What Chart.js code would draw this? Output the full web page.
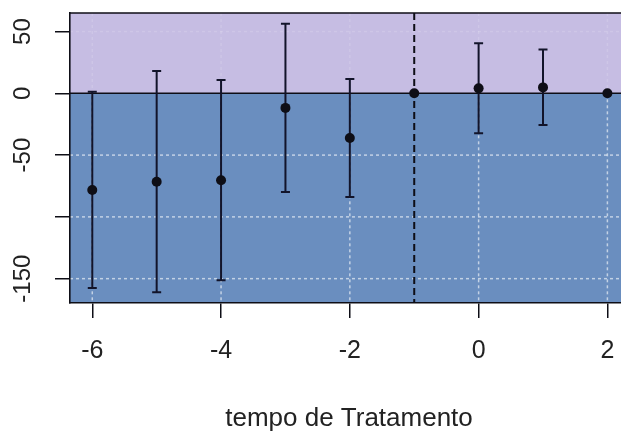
<!DOCTYPE html>
<html>
<head>
<meta charset="utf-8">
<script src="https://cdn.jsdelivr.net/npm/chart.js@4/dist/chart.umd.min.js"></script>
<style>
  html, body { margin: 0; padding: 0; background: #ffffff; overflow: hidden; }
  #wrap { width: 640px; height: 431px; }
</style>
</head>
<body>
<div id="wrap"><canvas id="c" width="640" height="431"></canvas></div>
<script>
// Event-study estimates by period relative to treatment
const periods   = [-6, -5, -4, -3, -2, -1, 0, 1, 2];
const estimates = [-78.2, -71.5, -70.3, -11.8, -36.1, 0, 4.0, 4.8, 0];
const ciLower   = [-157.6, -160.9, -151.3, -79.8, -83.9, null, -32.4, -25.7, null];
const ciUpper   = [1.3, 18.1, 10.8, 56.2, 11.6, null, 40.5, 35.4, null];

// Axis ticks and labels
const xTicks  = [-6, -4, -2, 0, 2];
const yTicks  = [50, 0, -50, -100, -150];
const yLabels = ['50', '0', '-50', '', '-150'];
const xTitle  = 'tempo de Tratamento';
const treatPeriod = -1;

const FONT = "'Liberation Sans', Arial, sans-serif";
const INK = '#0e0e16';

const panelPlugin = {
  id: 'panel',
  beforeDraw(chart) {
    const { ctx, chartArea: a, scales: { x, y } } = chart;
    const y0 = y.getPixelForValue(0);
    ctx.save();
    // shaded halves above / below zero
    ctx.fillStyle = '#c6bde3';
    ctx.fillRect(a.left, a.top, a.right - a.left, y0 - a.top);
    ctx.fillStyle = '#6a8ebf';
    ctx.fillRect(a.left, y0, a.right - a.left, a.bottom - y0);
    // dotted grid
    ctx.lineWidth = 1.5;
    ctx.setLineDash([3, 3]);
    xTicks.forEach(v => {
      const px = x.getPixelForValue(v);
      ctx.strokeStyle = 'rgba(255,255,255,0.14)';
      ctx.beginPath(); ctx.moveTo(px, a.top); ctx.lineTo(px, y0); ctx.stroke();
      ctx.strokeStyle = 'rgba(255,255,255,0.6)';
      ctx.beginPath(); ctx.moveTo(px, y0); ctx.lineTo(px, a.bottom); ctx.stroke();
    });
    yTicks.forEach(v => {
      if (v === 0) return;
      const py = y.getPixelForValue(v);
      ctx.strokeStyle = v > 0 ? 'rgba(255,255,255,0.14)' : 'rgba(255,255,255,0.6)';
      ctx.beginPath(); ctx.moveTo(a.left, py); ctx.lineTo(a.right, py); ctx.stroke();
    });
    ctx.restore();
  },
  beforeDatasetsDraw(chart) {
    const { ctx, chartArea: a, scales: { x, y } } = chart;
    const y0 = y.getPixelForValue(0);
    ctx.save();
    ctx.strokeStyle = INK;
    // zero reference line
    ctx.lineWidth = 1.6;
    ctx.beginPath(); ctx.moveTo(a.left, y0); ctx.lineTo(a.right, y0); ctx.stroke();
    // top frame
    ctx.beginPath(); ctx.moveTo(a.left, a.top); ctx.lineTo(a.right, a.top); ctx.stroke();
    // treatment period marker
    const xv = x.getPixelForValue(treatPeriod);
    ctx.lineWidth = 2;
    ctx.setLineDash([7, 4]);
    ctx.beginPath(); ctx.moveTo(xv, a.top); ctx.lineTo(xv, a.bottom); ctx.stroke();
    ctx.setLineDash([]);
    // confidence intervals
    ctx.strokeStyle = '#12142a';
    ctx.lineWidth = 2;
    periods.forEach((p, i) => {
      if (ciLower[i] === null || ciUpper[i] === null) return;
      const px = x.getPixelForValue(p);
      const lo = y.getPixelForValue(ciLower[i]);
      const hi = y.getPixelForValue(ciUpper[i]);
      ctx.beginPath();
      ctx.moveTo(px, lo); ctx.lineTo(px, hi);
      ctx.moveTo(px - 4.5, lo); ctx.lineTo(px + 4.5, lo);
      ctx.moveTo(px - 4.5, hi); ctx.lineTo(px + 4.5, hi);
      ctx.stroke();
    });
    ctx.restore();
  },
  afterDraw(chart) {
    const { ctx, scales: { y } } = chart;
    ctx.save();
    ctx.fillStyle = '#222222';
    ctx.font = '24px ' + FONT;
    ctx.textAlign = 'center';
    ctx.textBaseline = 'middle';
    yTicks.forEach((v, i) => {
      if (!yLabels[i]) return;
      const py = y.getPixelForValue(v);
      ctx.save();
      ctx.translate(23, py);
      ctx.rotate(-Math.PI / 2);
      ctx.fillText(yLabels[i], 0, 0);
      ctx.restore();
    });
    ctx.restore();
  }
};

new Chart(document.getElementById('c'), {
  type: 'scatter',
  data: {
    datasets: [{
      data: periods.map((p, i) => ({ x: p, y: estimates[i] })),
      pointRadius: 5,
      pointHoverRadius: 5,
      backgroundColor: INK,
      borderWidth: 0
    }]
  },
  options: {
    responsive: false,
    animation: false,
    events: [],
    layout: { padding: { top: 13, right: 12, left: 0, bottom: 0 } },
    plugins: { legend: { display: false }, tooltip: { enabled: false } },
    scales: {
      x: {
        type: 'linear',
        min: -6.346,
        max: 2.32,
        afterBuildTicks: s => { s.ticks = xTicks.map(v => ({ value: v })); },
        afterFit: s => { s.height = 128; },
        grid: { drawOnChartArea: false, drawTicks: true, tickLength: 15, tickColor: INK, lineWidth: 1.5 },
        border: { display: true, color: INK, width: 1.6 },
        ticks: {
          autoSkip: false,
          maxRotation: 0,
          padding: 18,
          color: '#222222',
          font: { family: FONT, size: 25 },
          callback: v => String(v)
        },
        title: {
          display: true,
          text: xTitle,
          color: '#222222',
          font: { family: FONT, size: 26 },
          padding: { top: 0, bottom: -3 }
        }
      },
      y: {
        type: 'linear',
        min: -169.7,
        max: 65,
        afterBuildTicks: s => { s.ticks = yTicks.map(v => ({ value: v })); },
        afterFit: s => { s.width = 70; },
        grid: { drawOnChartArea: false, drawTicks: true, tickLength: 15, tickColor: INK, lineWidth: 1.5 },
        border: { display: true, color: INK, width: 1.6 },
        ticks: { display: false }
      }
    }
  },
  plugins: [panelPlugin]
});
</script>
</body>
</html>
